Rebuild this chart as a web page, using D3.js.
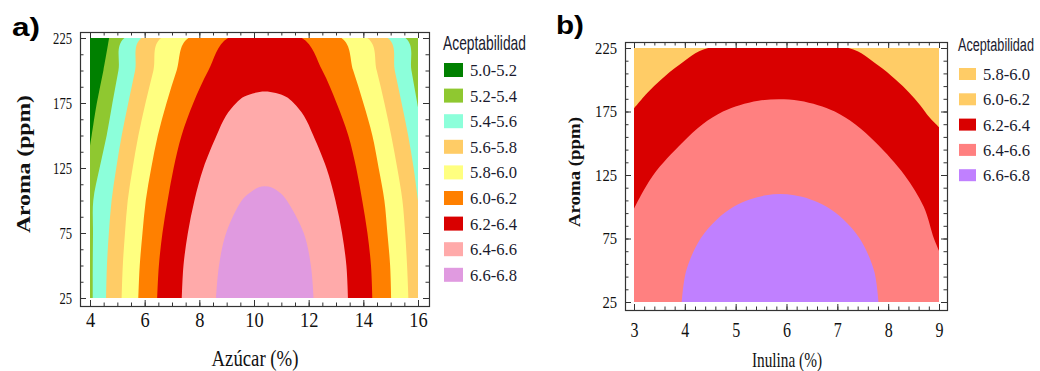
<!DOCTYPE html>
<html>
<head>
<meta charset="utf-8">
<script src="https://cdn.jsdelivr.net/npm/d3@7"></script>
<style>
  body { margin: 0; background: #fff; }
  svg { display: block; }
</style>
</head>
<body>
<svg id="chart" width="1040" height="371"></svg>
<script>
// ---- panel a: Azúcar (%) vs Aroma (ppm) ----
const sugarTicks = [4, 6, 8, 10, 12, 14, 16];
const aromaTicks = [25, 75, 125, 175, 225];
const bandsA = ["5.0-5.2", "5.2-5.4", "5.4-5.6", "5.6-5.8", "5.8-6.0", "6.0-6.2", "6.2-6.4", "6.4-6.6", "6.6-6.8"];
const colorsA = ["#008000", "#8FC830", "#8CFFDA", "#FFCC66", "#FFFF80", "#FF8000", "#D90000", "#FFAAAA", "#E09AE0"];
const levelsA = [5.2, 5.4, 5.6, 5.8, 6.0, 6.2, 6.4, 6.6];

// contour lines, [azucar, aroma]
const a52 = [[4.0, 142], [4.06, 150], [4.25, 175], [4.49, 200], [4.70, 225]];
const a54 = [[4.10, 25], [4.10, 50], [4.11, 75], [4.12, 100], [4.35, 125], [4.61, 150], [4.82, 175], [5.04, 200], [5.26, 225],
             [15.54, 225], [15.76, 200], [16.0, 172]];
const a56 = [[4.59, 25], [4.62, 50], [4.69, 75], [4.79, 100], [4.96, 125], [5.16, 150], [5.40, 175], [5.65, 200], [5.88, 225],
             [14.9, 225], [15.15, 200], [15.40, 175], [15.64, 150], [15.84, 125], [16.0, 100]];
const a58 = [[5.16, 25], [5.20, 50], [5.28, 75], [5.38, 100], [5.56, 125], [5.77, 150], [6.03, 175], [6.32, 200], [6.60, 225],
             [14.15, 225], [14.49, 200], [14.77, 175], [15.02, 150], [15.24, 125], [15.43, 100], [15.53, 75], [15.60, 50], [15.65, 25]];
const a60 = [[5.77, 25], [5.82, 50], [5.92, 75], [6.04, 100], [6.24, 125], [6.48, 150], [6.80, 175], [7.17, 200], [7.60, 225],
             [13.2, 225], [13.63, 200], [14.0, 175], [14.33, 150], [14.56, 125], [14.77, 100], [14.88, 75], [14.98, 50], [15.02, 25]];
const a62 = [[6.46, 25], [6.52, 50], [6.65, 75], [6.84, 100], [7.06, 125], [7.35, 150], [7.78, 175], [8.33, 200], [9.05, 225],
             [11.75, 225], [12.50, 200], [13.02, 175], [13.45, 150], [13.74, 125], [13.96, 100], [14.15, 75], [14.28, 50], [14.33, 25]];
const a64 = [[7.36, 25], [7.42, 50], [7.58, 75], [7.82, 100], [8.15, 125], [8.63, 150], [8.97, 165], [9.35, 175], [9.65, 180], [10.4, 183.8],
             [11.15, 180], [11.45, 175], [11.83, 165], [12.17, 150], [12.65, 125], [12.98, 100], [13.22, 75], [13.38, 50], [13.44, 25]];
const a66 = [[8.61, 25], [8.72, 50], [8.98, 75], [9.55, 100], [9.85, 106], [10.15, 110], [10.4, 111], [10.65, 110], [10.95, 106],
             [11.2, 100], [11.82, 75], [12.08, 50], [12.18, 25]];

// ---- panel b: Inulina (%) vs Aroma (ppm) ----
const inulinTicks = [3, 4, 5, 6, 7, 8, 9];
const bandsB = ["5.8-6.0", "6.0-6.2", "6.2-6.4", "6.4-6.6", "6.6-6.8"];
const colorsB = ["#FFCC66", "#FFCC66", "#D90000", "#FF8080", "#C080FF"];
const levelsB = [6.2, 6.4, 6.6];

const b62 = [[3.0, 177.5], [3.27, 190], [3.53, 200], [3.90, 212], [4.46, 225],
             [7.22, 225], [7.78, 212], [8.15, 200], [8.41, 190], [8.63, 180], [8.82, 170], [9.0, 162.6]];
const b64 = [[3.0, 98.5], [3.38, 125], [3.94, 150], [4.35, 165], [4.75, 175], [5.08, 180], [5.45, 183.5], [5.85, 184.6],
             [6.25, 183.5], [6.62, 180], [6.95, 175], [7.35, 165], [7.77, 150], [8.32, 125], [8.7, 100], [8.9, 75], [9.0, 65.4]];
const b66 = [[3.94, 25], [4.03, 50], [4.31, 75], [4.63, 90], [4.96, 100], [5.29, 106], [5.6, 109], [5.875, 110],
             [6.15, 109], [6.46, 106], [6.79, 100], [7.12, 90], [7.44, 75], [7.72, 50], [7.81, 25]];

const svg = d3.select("#chart");
const serif = "'Liberation Serif','Times New Roman','DejaVu Serif',serif";
const narrow = "'Liberation Sans Narrow','Liberation Sans',Arial,sans-serif";
const ink = "#111";

// closes a contour line round the outside of the plot, clockwise
function regionPath(pts, x, y) {
  const [x0, x1] = x.range();
  const [yb, yt] = y.range();
  const w = x1 - x0, h = yb - yt, per = 2 * (w + h), o = 30;
  const sc = pts.map(d => [x(d[0]), y(d[1])]);
  const near = (a, b) => Math.abs(a - b) < 0.5;
  const edgePos = ([px, py]) =>
    near(py, yt) ? px - x0 :
    near(px, x1) ? w + py - yt :
    near(py, yb) ? w + h + x1 - px :
    2 * w + h + yb - py;
  const push = ([px, py]) =>
    near(py, yt) ? [px, yt - o] :
    near(px, x1) ? [x1 + o, py] :
    near(py, yb) ? [px, yb + o] :
    [x0 - o, py];
  const first = sc[0], last = sc[sc.length - 1];
  const t0 = edgePos(last);
  let t1 = edgePos(first);
  if (t1 <= t0) t1 += per;
  const corners = [[w, [x1 + o, yt - o]], [w + h, [x1 + o, yb + o]], [2 * w + h, [x0 - o, yb + o]], [per, [x0 - o, yt - o]]];
  const tail = [push(last)];
  [0, per].forEach(k => corners.forEach(([t, c]) => { if (t + k > t0 && t + k < t1) tail.push(c); }));
  tail.push(push(first));
  const curve = d3.line().curve(d3.curveCatmullRom.alpha(0.5))(sc);
  return curve + tail.map(p => "L" + p.join(",")).join("") + "Z";
}

function styleTicks(sel) {
  sel.select(".domain").remove();
  sel.selectAll("line").attr("stroke", "#333");
}

function drawPanel(p) {
  const x = d3.scaleLinear().domain(p.xDomain).range(p.xRange);
  const y = d3.scaleLinear().domain(p.yDomain).range(p.yRange);
  const g = svg.append("g");

  g.append("clipPath").attr("id", "clip-" + p.id).append("rect")
    .attr("x", p.xRange[0]).attr("y", p.yRange[1])
    .attr("width", p.xRange[1] - p.xRange[0])
    .attr("height", p.yRange[0] - p.yRange[1]);

  const plot = g.append("g").attr("clip-path", `url(#clip-${p.id})`);
  plot.append("rect")
    .attr("x", p.xRange[0] - 5).attr("y", p.yRange[1] - 5)
    .attr("width", p.xRange[1] - p.xRange[0] + 10)
    .attr("height", p.yRange[0] - p.yRange[1] + 10)
    .attr("fill", p.colors[0]);

  const bandColor = lv => p.colors[p.bands.findIndex(s => s.startsWith(lv.toFixed(1)))];
  plot.selectAll("path.band")
    .data(p.contours)
    .join("path")
    .attr("class", "band")
    .attr("d", c => regionPath(c, x, y))
    .attr("fill", (c, i) => bandColor(p.levels[i]));

  const [fx0, fy0, fx1, fy1] = p.frame;
  g.append("rect")
    .attr("x", fx0 + 0.5).attr("y", fy0 + 0.5)
    .attr("width", fx1 - fx0).attr("height", fy1 - fy0)
    .attr("fill", "none").attr("stroke", "#333").attr("stroke-width", 1.2);

  const xMinor = d3.range(p.xDomain[0], p.xDomain[1] + 1e-9, p.xMinor);
  const yMinor = d3.range(p.yDomain[0], p.yDomain[1] + 1e-9, p.yMinor);

  // ticks on all four sides, pointing in
  g.append("g").attr("transform", `translate(0,${fy1})`)
    .call(d3.axisBottom(x).tickValues(xMinor).tickSize(-3.5).tickFormat("")).call(styleTicks);
  g.append("g").attr("transform", `translate(0,${fy0})`)
    .call(d3.axisTop(x).tickValues(xMinor).tickSize(-3.5).tickFormat("")).call(styleTicks);
  g.append("g").attr("transform", `translate(0,${fy0})`)
    .call(d3.axisTop(x).tickValues(p.xTicks).tickSize(-6).tickFormat("")).call(styleTicks);
  g.append("g").attr("transform", `translate(${fx0},0)`)
    .call(d3.axisLeft(y).tickValues(yMinor).tickSize(-3.5).tickFormat("")).call(styleTicks);
  g.append("g").attr("transform", `translate(${fx1},0)`)
    .call(d3.axisRight(y).tickValues(yMinor).tickSize(-3.5).tickFormat("")).call(styleTicks);
  g.append("g").attr("transform", `translate(${fx1},0)`)
    .call(d3.axisRight(y).tickValues(p.yTicks).tickSize(-6).tickFormat("")).call(styleTicks);

  const xAxis = g.append("g").attr("transform", `translate(0,${fy1})`)
    .call(d3.axisBottom(x).tickValues(p.xTicks).tickSize(-6).tickPadding(p.xPad).tickFormat(d3.format("d")))
    .call(styleTicks);
  xAxis.selectAll("text")
    .attr("font-family", serif).attr("font-size", p.xFont).attr("fill", ink)
    .attr("textLength", d => String(d).length * p.xDigit).attr("lengthAdjust", "spacingAndGlyphs");

  const yAxis = g.append("g").attr("transform", `translate(${fx0},0)`)
    .call(d3.axisLeft(y).tickValues(p.yTicks).tickSize(-6).tickPadding(p.yPad).tickFormat(d3.format("d")))
    .call(styleTicks);
  yAxis.selectAll("text")
    .attr("font-family", serif).attr("font-size", p.yFont).attr("fill", ink)
    .attr("textLength", d => String(d).length * p.yDigit).attr("lengthAdjust", "spacingAndGlyphs");

  // axis titles
  g.append("text")
    .attr("x", p.xTitle.x).attr("y", p.xTitle.y)
    .attr("text-anchor", "middle")
    .attr("font-family", serif).attr("font-size", p.xTitle.size).attr("fill", ink)
    .attr("textLength", p.xTitle.len).attr("lengthAdjust", "spacingAndGlyphs")
    .text(p.xTitle.text);
  g.append("text")
    .attr("transform", `translate(${p.yTitle.x},${p.yTitle.y}) rotate(-90)`)
    .attr("text-anchor", "middle")
    .attr("font-family", serif).attr("font-weight", "bold")
    .attr("font-size", p.yTitle.size).attr("fill", ink)
    .attr("textLength", p.yTitle.len).attr("lengthAdjust", "spacingAndGlyphs")
    .text("Aroma (ppm)");

  // panel letter
  g.append("text")
    .attr("x", p.letter.x).attr("y", p.letter.y)
    .attr("font-family", "'Liberation Sans',Arial,sans-serif").attr("font-weight", "bold")
    .attr("font-size", 25).attr("fill", "#000")
    .attr("textLength", 28).attr("lengthAdjust", "spacingAndGlyphs")
    .text(p.letter.text);

  // legend: condensed title squeezed with a scale so its box stays honest
  const L = p.legend;
  const title = g.append("text")
    .attr("font-family", narrow).attr("font-size", L.titleSize).attr("fill", "#1a1a2e")
    .text("Aceptabilidad");
  const natural = title.node().getComputedTextLength();
  title.attr("transform", `translate(${L.x},${L.titleY}) scale(${L.titleLen / natural},1)`);

  const rows = g.selectAll("g.leg")
    .data(p.bands)
    .join("g")
    .attr("class", "leg")
    .attr("transform", (d, i) => `translate(0,${L.y0 + i * L.dy})`);
  rows.append("rect")
    .attr("x", L.x + 1).attr("y", -L.sh / 2)
    .attr("width", L.sw).attr("height", L.sh)
    .attr("fill", (d, i) => p.colors[i]);
  rows.append("text")
    .attr("x", L.labelX).attr("y", 6)
    .attr("font-family", serif).attr("font-size", 17).attr("fill", "#1a1a2e")
    .attr("textLength", 47).attr("lengthAdjust", "spacingAndGlyphs")
    .text(d => d);
}

drawPanel({
  id: "a",
  xDomain: [4, 16], xRange: [90, 418],
  yDomain: [25, 225], yRange: [298, 38],
  frame: [80, 32, 429, 306],
  xTicks: sugarTicks, yTicks: aromaTicks, xMinor: 0.5, yMinor: 12.5,
  xPad: 6, xFont: 21, xDigit: 9.2,
  yPad: 8, yFont: 16.5, yDigit: 6.3,
  bands: bandsA, colors: colorsA, levels: levelsA,
  contours: [a52, a54, a56, a58, a60, a62, a64, a66],
  xTitle: { text: "Azúcar (%)", x: 255, y: 366, size: 23, len: 87 },
  yTitle: { x: 30, y: 164, size: 18, len: 138 },
  letter: { text: "a)", x: 12, y: 36 },
  legend: { x: 443, titleY: 50, titleSize: 20, titleLen: 83, y0: 70, dy: 25.6, sw: 19, sh: 14, labelX: 470 }
});

drawPanel({
  id: "b",
  xDomain: [3, 9], xRange: [634, 939],
  yDomain: [25, 225], yRange: [302, 48],
  frame: [625, 42, 947, 310],
  xTicks: inulinTicks, yTicks: aromaTicks, xMinor: 0.2, yMinor: 10,
  xPad: 12, xFont: 21, xDigit: 8,
  yPad: 8, yFont: 17, yDigit: 7.3,
  bands: bandsB, colors: colorsB, levels: levelsB,
  contours: [b62, b64, b66],
  xTitle: { text: "Inulina (%)", x: 787, y: 367, size: 21, len: 70 },
  yTitle: { x: 580, y: 172, size: 16, len: 110 },
  letter: { text: "b)", x: 556, y: 34 },
  legend: { x: 958, titleY: 51, titleSize: 19, titleLen: 76, y0: 74, dy: 25.3, sw: 17, sh: 12, labelX: 983 }
});
</script>
</body>
</html>
